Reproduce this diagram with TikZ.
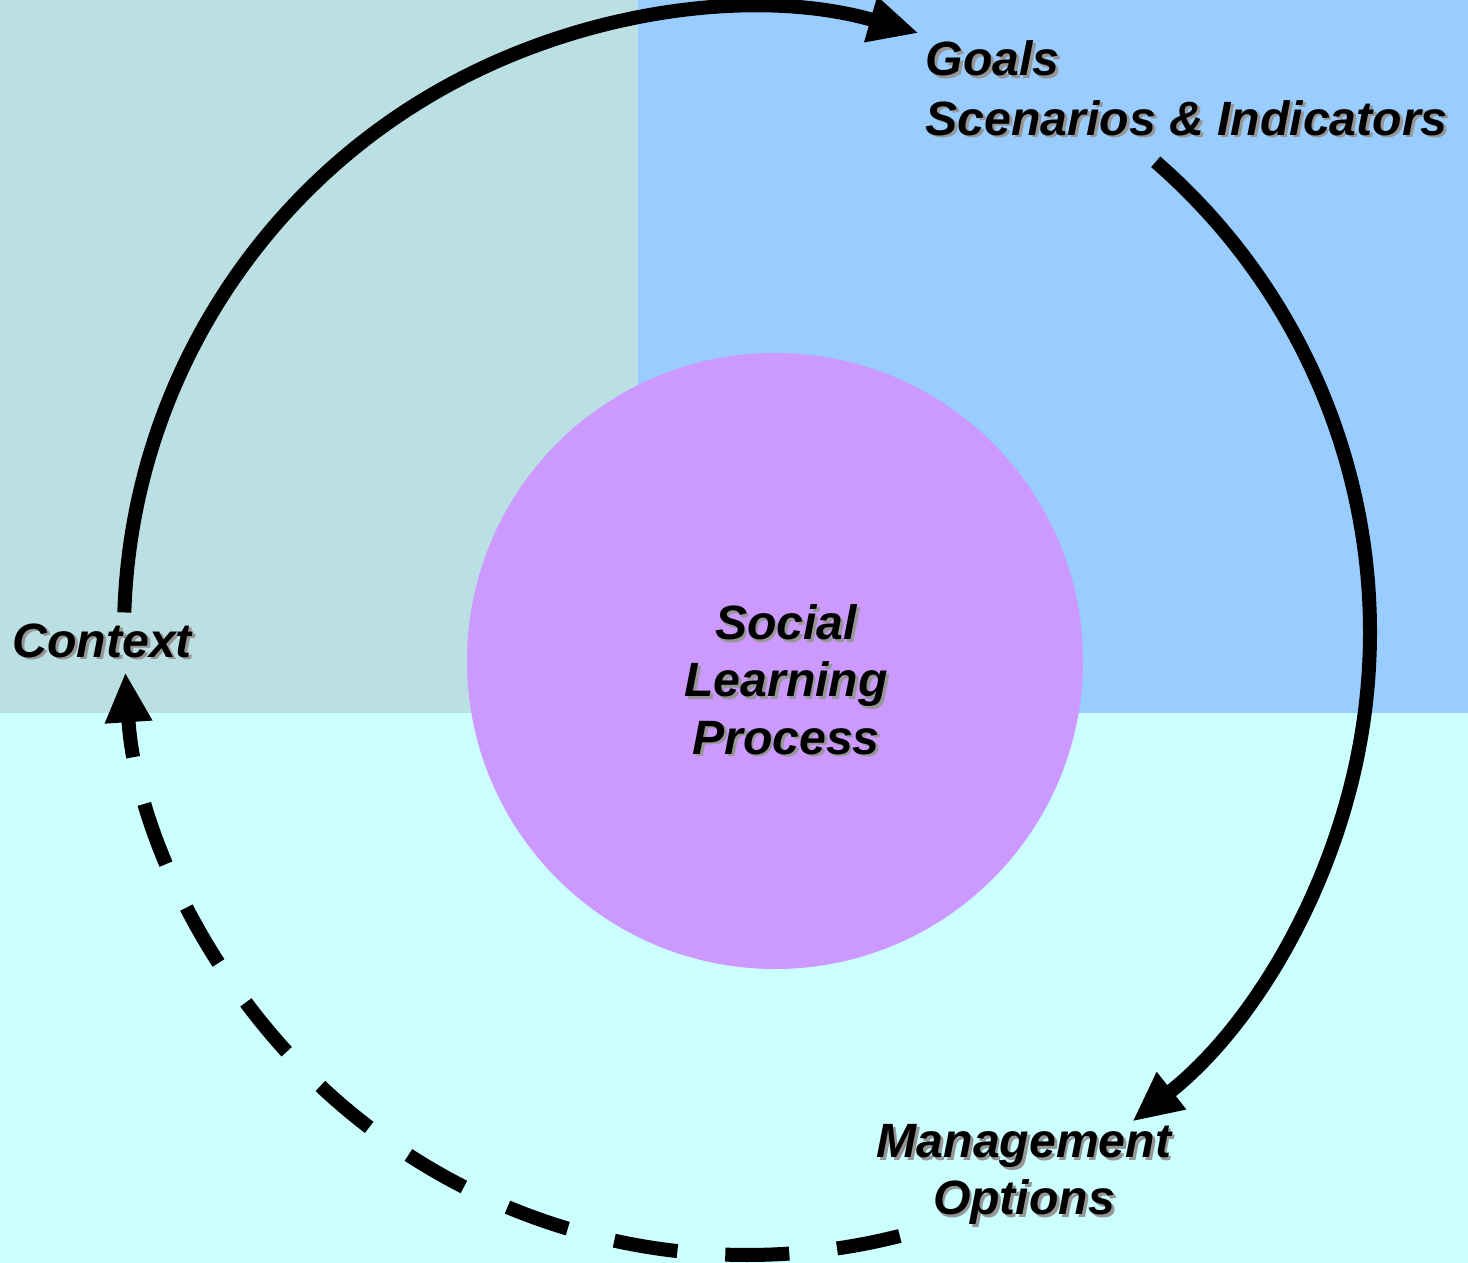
\documentclass[tikz,border=0pt]{standalone}
\usepackage{fontspec}
\setmainfont{Liberation Sans}
\usetikzlibrary{arrows.meta}

\definecolor{ctxTeal}{RGB}{187,224,227}
\definecolor{goalBlue}{RGB}{153,204,255}
\definecolor{optCyan}{RGB}{204,255,255}
\definecolor{slpPurple}{RGB}{204,153,255}
\definecolor{shadowGray}{RGB}{150,150,150}

% text with a soft drop shadow
\newcommand{\shadowed}[1]{\makebox[0pt][l]{\kern0.8pt\raisebox{-0.8pt}{\textcolor{shadowGray}{#1}}}#1}

\tikzset{
	lbl/.style={inner sep=0pt, font=\fontsize{13.7}{16.3}\selectfont\bfseries\itshape},
	cyclearrow/.style={line width=1.4mm, -{Triangle[length=5mm,width=4.4mm]}},
}

\begin{document}
\begin{tikzpicture}[x=0.01cm, y=0.01cm]
		\def\ringR{623} % Radius of the outer cycle
		
		\useasboundingbox (0,0) rectangle (1468,-1263);
		
		% Background quadrants
		\fill[ctxTeal] (0,0) rectangle (638,-713);
		\fill[goalBlue] (638,0) rectangle (1468,-713);
		\fill[optCyan] (0,-713) rectangle (1468,-1263);
		
		% Central circle
		\fill[slpPurple] (775,-661) circle (308);
		
		% Labels
		\node[lbl, align=center] (slp) at (786,-681) {\shadowed{Social}\\\shadowed{Learning}\\\shadowed{Process}};
		\node[lbl, anchor=base west] (context) at (12,-657) {\shadowed{Context}};
		\node[lbl, align=left, anchor=base west, font=\fontsize{13.7}{17}\selectfont\bfseries\itshape] (goals) at (925,-135) {\shadowed{Goals}\\\shadowed{Scenarios \& Indicators}};
		\node[lbl, align=center] (mgmt) at (1024,-1176) {\shadowed{Management}\\\shadowed{Options}};
		
		% End points of the cycle
		\coordinate (ctr) at (747,-632);
		\coordinate (ctxStart) at ([shift={(178.2:\ringR)}]ctr);
		\coordinate (goalStart) at ([shift={(49:\ringR)}]ctr);
		\coordinate (optStart) at ([shift={(-75.8:\ringR)}]ctr);
		
		% The cycle
		\draw[cyclearrow] (ctxStart) arc[start angle=178.2, end angle=74, radius=\ringR];
		\draw[cyclearrow] (goalStart) arc[start angle=49, end angle=-51.8, radius=\ringR];
		\draw[cyclearrow, dash pattern=on 0.64cm off 0.48cm] (optStart) arc[start angle=-75.8, end angle=-176.3, radius=\ringR];
	\end{tikzpicture}
\end{document}
